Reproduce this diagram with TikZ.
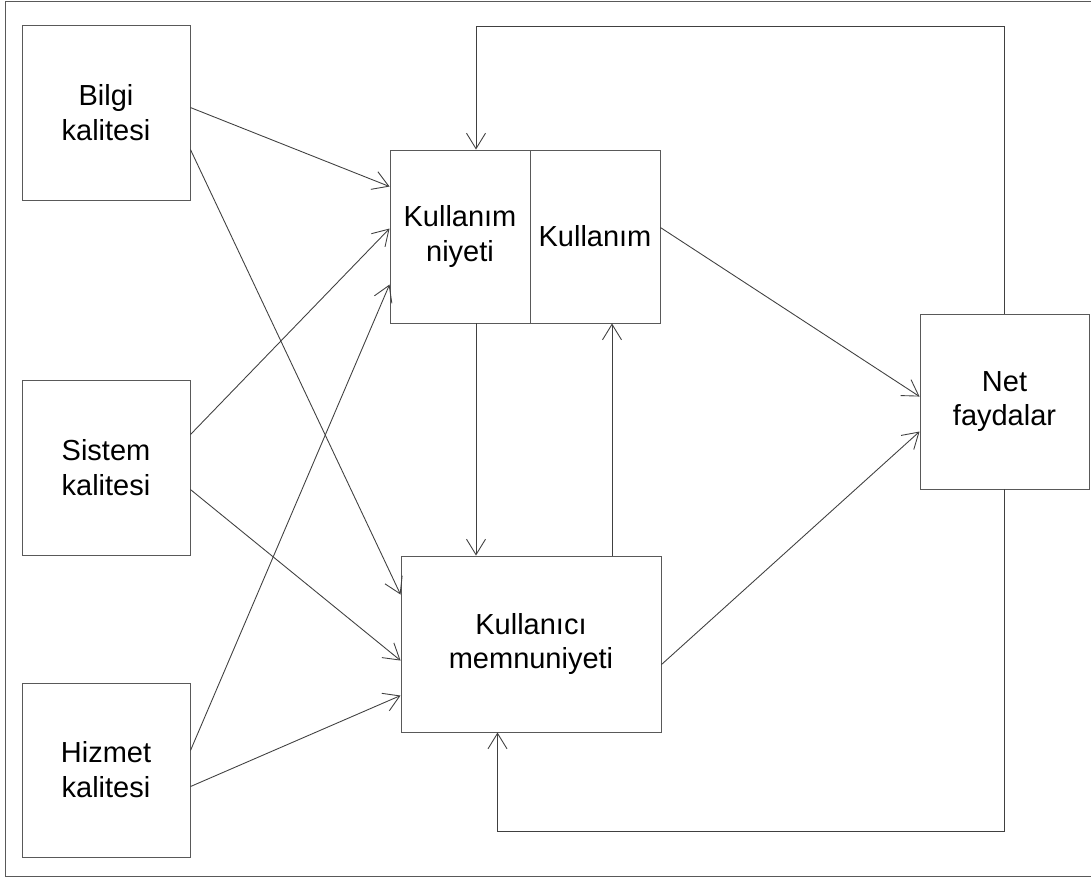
\documentclass[tikz,border=0pt]{standalone}
\usepackage{fontspec}
\setmainfont{Liberation Sans}
\usetikzlibrary{arrows.meta,calc}
\begin{document}
\begin{tikzpicture}[x=0.02cm,y=-0.02cm,
  box/.style={draw=black!65,line width=0.55pt,inner sep=0pt,align=center,
    font=\fontsize{16.5}{19.8}\selectfont,minimum height=3.5cm},
  link/.style={draw=black!75,line width=0.5pt,
    -{Straight Barb[length=3.1mm,width=3.8mm,line width=0.5pt]}}]
\useasboundingbox (0,0) rectangle (1091,880);
% outer frame
\draw[black!65,line width=0.55pt] (5.5,1) rectangle (1096,876.5);

% quality dimensions on the left
\node[box,minimum width=3.36cm] (bilgi)  at (106,112.5) {Bilgi\\kalitesi};
\node[box,minimum width=3.36cm] (sistem) at (106,467.5) {Sistem\\kalitesi};
\node[box,minimum width=3.36cm,minimum height=3.48cm] (hizmet) at (106,770) {Hizmet\\kalitesi};

% use / intention to use
\node[box,minimum width=2.8cm,minimum height=3.46cm] (niyeti) at (460,236.5) {Kullanım\\niyeti};
\node[box,minimum width=2.6cm,minimum height=3.46cm] (kullanim) at (595,236.5) {Kullanım};

% user satisfaction
\node[box,minimum width=5.2cm,minimum height=3.52cm] (memnun) at (531,644) {Kullanıcı\\memnuniyeti};

% net benefits
\node[box,minimum width=3.38cm] (net) at (1004.5,401.5) {Net\\faydalar};

% arrows into intention to use
\draw[link] ($(bilgi.north east)+(0,83)$)  -- ($(niyeti.north west)+(0,37)$);
\draw[link] ($(sistem.north east)+(0,55)$) -- ($(niyeti.north west)+(0,79)$);
\draw[link] ($(hizmet.north east)+(0,68)$) -- ($(niyeti.north west)+(0,135)$);

% arrows into user satisfaction
\draw[link] ($(bilgi.north east)+(0,125)$)  -- ($(memnun.north west)+(0,39)$);
\draw[link] ($(sistem.north east)+(0,110)$) -- ($(memnun.north west)+(0,105)$);
\draw[link] ($(hizmet.north east)+(0,104)$) -- ($(memnun.north west)+(0,140)$);

% arrows into net benefits
\draw[link] ($(kullanim.north east)+(0,78)$) -- ($(net.north west)+(0,83)$);
\draw[link] ($(memnun.north east)+(0,109)$)  -- ($(net.north west)+(0,118)$);

% links between use and satisfaction
\coordinate (dn) at (476,0);
\coordinate (up) at (612,0);
\draw[link] (dn |- niyeti.south) -- (dn |- memnun.north);
\draw[link] (up |- memnun.north) -- (up |- kullanim.south);

% feedback loops from net benefits
\coordinate (tr) at (1004.5,26);
\coordinate (tl) at (476,26);
\draw[link] (net.north) -- (tr) -- (tl) -- (tl |- niyeti.north);
\coordinate (br) at (1004.5,831);
\coordinate (bl) at (497.5,831);
\draw[link] (net.south) -- (br) -- (bl) -- (bl |- memnun.south);
\end{tikzpicture}
\end{document}
